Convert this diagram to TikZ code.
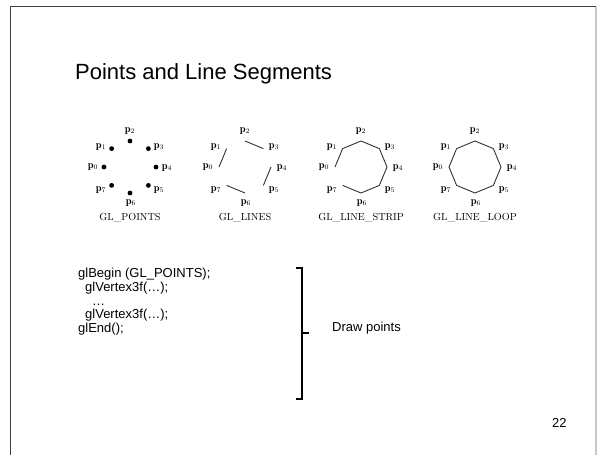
\documentclass[tikz,border=0pt]{standalone}
\usepackage{fontspec}
\setsansfont{Liberation Sans}
\usetikzlibrary{calc}
\begin{document}
\begin{tikzpicture}[x=1pt,y=-1pt,
  frameD/.style={draw=black!75,line width=1.2pt},
  frameL/.style={draw=black!22,line width=1.2pt},
  seg/.style={draw=black!80,line width=0.9pt,line join=round},
  vdot/.style={fill=black},
  plabel/.style={inner sep=0pt,font=\fontsize{10.5}{12}\selectfont},
  captext/.style={inner sep=0pt,font=\fontsize{10.2}{12}\selectfont},
  codeline/.style={inner sep=0pt,anchor=base west,font=\sffamily\fontsize{13}{14}\selectfont},
  bracestroke/.style={draw=black,line width=2.6pt}]
\useasboundingbox (0,0) rectangle (597,455);
% slide frame
\draw[frameD] (10.5,455) -- (10.5,6.5) -- (596,6.5);
\draw[frameL] (596,6.5) -- (596,455);
% title
\node[anchor=base west,inner sep=0pt,font=\sffamily\fontsize{22}{26}\selectfont] (title) at (75,79) {Points and Line Segments};
% vertices of the four diagrams
\foreach \d/\cx in {1/130,2/245,3/361,4/475}{
  \coordinate (c\d) at (\cx,167);
  \foreach \k in {0,...,7}{
    \coordinate (d\d v\k) at ($(\cx,167)+({180+45*\k}:26)$);
  }
  \foreach \k/\dx/\dy in {0/-37/0,1/-29/-20,2/0/-36,3/29/-20,4/37/1,5/29/23,6/1/36,7/-29/23}{
    \node[plabel] (d\d l\k) at ($(\cx,167)+(\dx,\dy)$) {$\mathbf{p}_{\k}$};
  }
}
% GL_POINTS
\foreach \k in {0,...,7}{ \fill[vdot] (d1v\k) circle (2.4); }
% GL_LINES
\draw[seg] (d2v0) -- (d2v1) (d2v2) -- (d2v3) (d2v4) -- (d2v5) (d2v6) -- (d2v7);
% GL_LINE_STRIP
\draw[seg] (d3v0) -- (d3v1) -- (d3v2) -- (d3v3) -- (d3v4) -- (d3v5) -- (d3v6) -- (d3v7);
% GL_LINE_LOOP
\draw[seg] (d4v0) -- (d4v1) -- (d4v2) -- (d4v3) -- (d4v4) -- (d4v5) -- (d4v6) -- (d4v7) -- cycle;
% captions
\node[captext] (cap1) at (130,218) {GL\_POINTS};
\node[captext] (cap2) at (245,218) {GL\_LINES};
\node[captext] (cap3) at (361,218) {GL\_LINE\_STRIP};
\node[captext] (cap4) at (475,218) {GL\_LINE\_LOOP};
% code
\node[codeline] (code1) at (78,277.5) {glBegin (GL\_POINTS);};
\node[codeline] (code2) at (85,291.3) {glVertex3f(…);};
\node[codeline] (code3) at (92,305) {…};
\node[codeline] (code4) at (85,318.8) {glVertex3f(…);};
\node[codeline] (code5) at (78,332.5) {glEnd();};
% bracket
\coordinate (bt) at (302,268);
\coordinate (bb) at (302,399);
\coordinate (bm) at (302,333);
\draw[bracestroke] ([xshift=-6pt]bt) -- (bt) -- (bb) -- ([xshift=-6pt]bb);
\draw[bracestroke] (bm) -- ([xshift=7pt]bm);
\node[anchor=west,inner sep=0pt,font=\sffamily\fontsize{13}{14}\selectfont] (desc) at (332,328) {Draw points};
% page number
\node[anchor=west,inner sep=0pt,font=\sffamily\fontsize{13}{14}\selectfont] (pnum) at (552,423) {22};
\end{tikzpicture}
\end{document}
